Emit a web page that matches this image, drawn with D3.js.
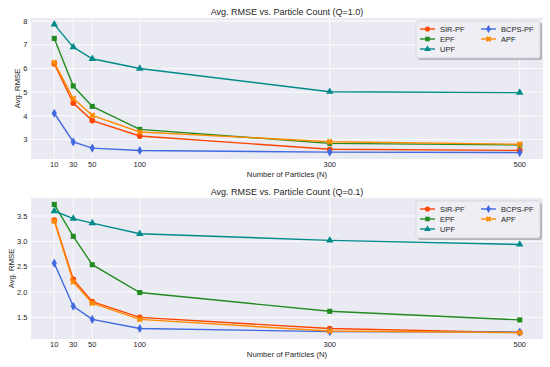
<!DOCTYPE html>
<html>
<head>
<meta charset="utf-8">
<script src="https://cdn.jsdelivr.net/npm/d3@7"></script>
<style>
  body { margin: 0; background: #fff; }
  text { font-family: "Liberation Sans", Arial, sans-serif; }
</style>
</head>
<body>
<div id="chart"></div>
<script>
// data
const particles = [10, 30, 50, 100, 300, 500];
const methods = ["SIR-PF", "EPF", "UPF", "BCPS-PF", "APF"];

const q1_sir  = [6.20, 4.54, 3.80, 3.15, 2.59, 2.54];
const q1_epf  = [7.27, 5.26, 4.40, 3.43, 2.84, 2.77];
const q1_upf  = [7.86, 6.90, 6.41, 6.00, 5.02, 4.98];
const q1_bcps = [4.11, 2.90, 2.64, 2.54, 2.47, 2.45];
const q1_apf  = [6.25, 4.73, 4.02, 3.32, 2.91, 2.80];

const q01_sir  = [3.42, 2.25, 1.81, 1.50, 1.28, 1.20];
const q01_epf  = [3.73, 3.10, 2.54, 1.99, 1.62, 1.45];
const q01_upf  = [3.60, 3.45, 3.36, 3.15, 3.02, 2.94];
const q01_bcps = [2.57, 1.72, 1.46, 1.28, 1.22, 1.21];
const q01_apf  = [3.40, 2.20, 1.78, 1.46, 1.23, 1.20];

const yTicksQ1  = [3, 4, 5, 6, 7, 8];
const yTicksQ01 = [1.5, 2.0, 2.5, 3.0, 3.5];

const colors = {"SIR-PF": "#ff4500", "EPF": "#228b22", "UPF": "#008b8b", "BCPS-PF": "#4169e1", "APF": "#ff8c00"};
const symbols = {"SIR-PF": d3.symbolCircle, "EPF": d3.symbolSquare, "UPF": d3.symbolTriangle,
                 "BCPS-PF": d3.symbolDiamond, "APF": d3.symbolCross};
const symRot = {"APF": 45};
const symSize = {"SIR-PF": 26, "EPF": 26, "UPF": 24, "BCPS-PF": 24, "APF": 24};

const W = 550, H = 367;
const svg = d3.select("#chart").append("svg").attr("width", W).attr("height", H);
const ink = "#262626";

function panel(top, title, series, yTicks, fmt) {
  const m = {left: 31, right: 543, top: top, bottom: top + 141};
  const g = svg.append("g");

  const x = d3.scaleLinear().domain([-14.5, 524.5]).range([m.left, m.right]);
  const all = series.flat();
  const lo = d3.min(all), hi = d3.max(all), pad = (hi - lo) * 0.05;
  const y = d3.scaleLinear().domain([lo - pad, hi + pad]).range([m.bottom, m.top]);

  g.append("rect").attr("x", m.left).attr("y", m.top)
    .attr("width", m.right - m.left).attr("height", m.bottom - m.top).attr("fill", "#eaeaf2");

  // grid
  g.append("g").selectAll("line").data(particles).enter().append("line")
    .attr("x1", d => x(d)).attr("x2", d => x(d)).attr("y1", m.top).attr("y2", m.bottom)
    .attr("stroke", "#fff").attr("stroke-width", 0.9);
  g.append("g").selectAll("line").data(yTicks).enter().append("line")
    .attr("y1", d => y(d)).attr("y2", d => y(d)).attr("x1", m.left).attr("x2", m.right)
    .attr("stroke", "#fff").attr("stroke-width", 0.9);

  // tick labels
  g.append("g").selectAll("text").data(particles).enter().append("text")
    .attr("x", d => x(d)).attr("y", m.bottom + 8.2).attr("text-anchor", "middle")
    .attr("font-size", 7.5).attr("fill", ink).text(d => d);
  g.append("g").selectAll("text").data(yTicks).enter().append("text")
    .attr("x", m.left - 3.5).attr("y", d => y(d) + 2.7).attr("text-anchor", "end")
    .attr("font-size", 7.5).attr("fill", ink).text(d => fmt(d));

  g.append("text").attr("x", (m.left + m.right) / 2).attr("y", m.top - 2.8)
    .attr("text-anchor", "middle").attr("font-size", 9).attr("fill", ink).text(title);
  g.append("text").attr("x", (m.left + m.right) / 2).attr("y", m.bottom + 18.3)
    .attr("text-anchor", "middle").attr("font-size", 7.7).attr("fill", ink).text("Number of Particles (N)");
  const ylx = yTicks.some(t => t % 1 !== 0) ? 13.5 : 19.5;
  g.append("text").attr("transform", `translate(${ylx},${(m.top + m.bottom) / 2}) rotate(-90)`)
    .attr("text-anchor", "middle").attr("font-size", 7.7).attr("fill", ink).text("Avg. RMSE");

  const line = d3.line().x((d, i) => x(particles[i])).y(d => y(d));
  methods.forEach((name, k) => {
    const vals = series[k];
    g.append("path").datum(vals).attr("d", line).attr("fill", "none")
      .attr("stroke", colors[name]).attr("stroke-width", 1.4);
    g.append("g").selectAll("path").data(vals).enter().append("path")
      .attr("d", d3.symbol().type(symbols[name]).size(symSize[name]))
      .attr("transform", (d, i) => `translate(${x(particles[i])},${y(d)}) rotate(${symRot[name] || 0})`)
      .attr("fill", colors[name]);
  });

  // legend
  const lx = 416, ly = m.top + 3, lw = 124, lh = 37;
  g.append("rect").attr("x", lx + 2).attr("y", ly + 2).attr("width", lw).attr("height", lh)
    .attr("rx", 2).attr("fill", "#8f8f96").attr("opacity", 0.6);
  g.append("rect").attr("x", lx).attr("y", ly).attr("width", lw).attr("height", lh)
    .attr("rx", 2).attr("fill", "#eeeef4").attr("stroke", "#cfcfd6").attr("stroke-width", 0.8);
  methods.forEach((name, k) => {
    const col = k < 3 ? 0 : 1, row = k < 3 ? k : k - 3;
    const ex = lx + 4 + col * 61, ey = ly + 8 + row * 10;
    g.append("line").attr("x1", ex).attr("x2", ex + 15).attr("y1", ey).attr("y2", ey)
      .attr("stroke", colors[name]).attr("stroke-width", 1.4);
    g.append("path").attr("d", d3.symbol().type(symbols[name]).size(symSize[name] * 0.8)())
      .attr("transform", `translate(${ex + 7.5},${ey}) rotate(${symRot[name] || 0})`)
      .attr("fill", colors[name]);
    g.append("text").attr("x", ex + 20).attr("y", ey + 2.7).attr("font-size", 7.5)
      .attr("fill", ink).text(name);
  });
}

panel(18, "Avg. RMSE vs. Particle Count (Q=1.0)",
  [q1_sir, q1_epf, q1_upf, q1_bcps, q1_apf], yTicksQ1, d => d);
panel(198, "Avg. RMSE vs. Particle Count (Q=0.1)",
  [q01_sir, q01_epf, q01_upf, q01_bcps, q01_apf], yTicksQ01, d3.format(".1f"));
</script>
</body>
</html>
